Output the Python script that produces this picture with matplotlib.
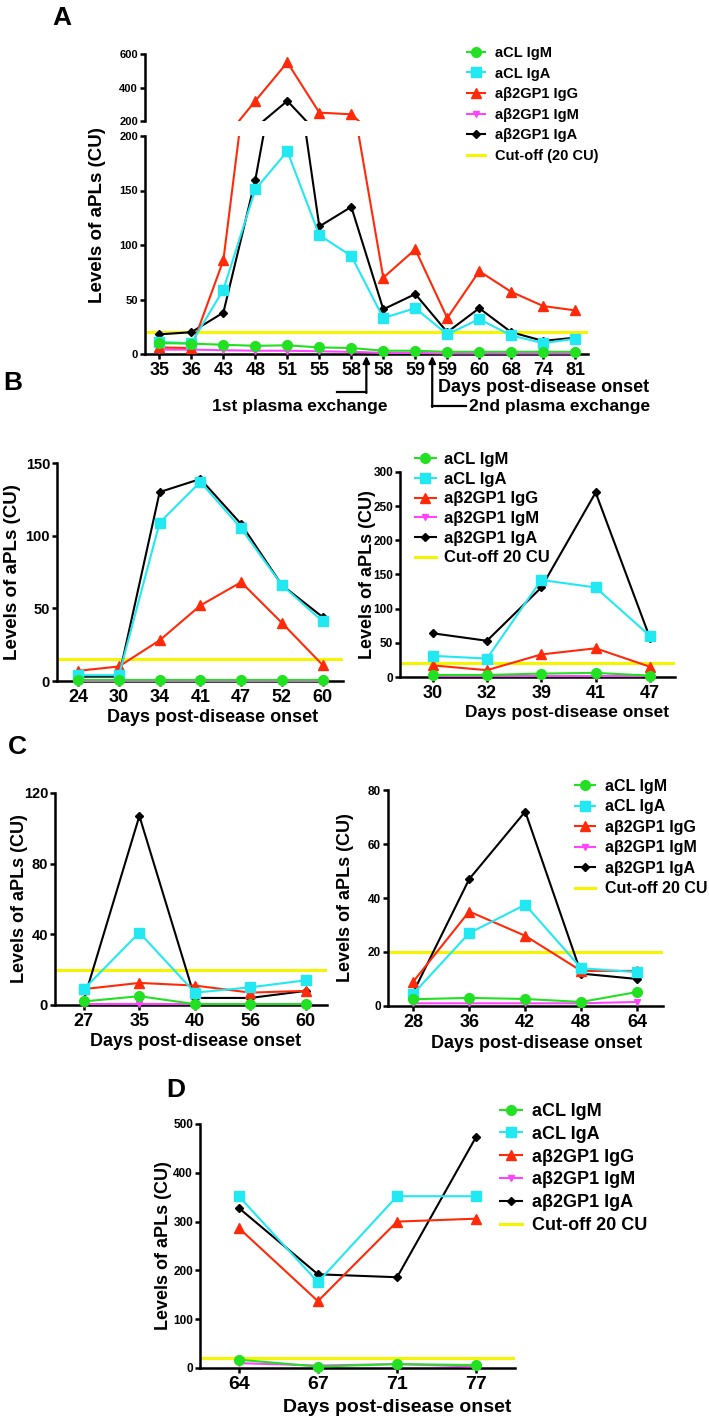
import matplotlib
matplotlib.use('Agg')
import matplotlib.pyplot as plt
import matplotlib.transforms as mtransforms
from matplotlib.transforms import Bbox, TransformedBbox
from matplotlib.lines import Line2D

plt.rcParams['font.family'] = ['Liberation Sans', 'DejaVu Sans']
plt.rcParams['font.weight'] = 'bold'
plt.rcParams['axes.labelweight'] = 'bold'

# ---------------- data ----------------
series_names = ['aCL IgM', 'aCL IgA', 'aβ2GP1 IgG', 'aβ2GP1 IgM', 'aβ2GP1 IgA']

# Panel A
A_days = ['35', '36', '43', '48', '51', '55', '58', '58', '59', '59', '60', '68', '74', '81']
A_acl_igm = [10, 9.5, 8.5, 7.5, 8, 6, 5.5, 3, 3, 2, 2, 2, 2, 2]
A_acl_iga = [11, 10, 59, 151, 186, 109, 90, 33, 42, 18, 32, 17, 10, 14]
A_b2_igg = [6, 5.5, 86, 320, 550, 250, 240, 70, 96, 33, 76, 57, 44, 40]
A_b2_igm = [4, 4, 3.5, 3, 3, 2.5, 2, 1, 1, 0.5, 0.5, 0.5, 0.5, 0.5]
A_b2_iga = [18, 20, 38, 160, 320, 117, 135, 41, 55, 20, 42, 20, 12, 15]
A_cutoff = 20

# Panel B left
B1_days = ['24', '30', '34', '41', '47', '52', '60']
B1_acl_igm = [0.5, 0.5, 0.5, 0.5, 0.5, 0.5, 0.5]
B1_acl_iga = [4, 4, 109, 137, 105, 66, 41]
B1_b2_igg = [7, 10, 28, 52, 68, 40, 11]
B1_b2_igm = [0.3, 0.3, 0.3, 0.3, 0.3, 0.3, 0.3]
B1_b2_iga = [3, 3, 130, 139, 108, 66, 44]
B1_cutoff = 15

# Panel B right
B2_days = ['30', '32', '39', '41', '47']
B2_acl_igm = [3, 3, 5, 6, 2]
B2_acl_iga = [31, 27, 142, 131, 60]
B2_b2_igg = [17, 10, 33, 42, 15]
B2_b2_igm = [1, 1, 1, 1, 1]
B2_b2_iga = [64, 53, 131, 270, 57]
B2_cutoff = 20

# Panel C left
C1_days = ['27', '35', '40', '56', '60']
C1_acl_igm = [2, 5, 0.5, 0.5, 0.5]
C1_acl_iga = [9, 41, 7, 10, 14]
C1_b2_igg = [9, 12.5, 11, 7, 8]
C1_b2_igm = [0.3, 0.3, 0.3, 0.3, 0.3]
C1_b2_iga = [3, 107, 4, 4, 8]
C1_cutoff = 20

# Panel C right
C2_days = ['28', '36', '42', '48', '64']
C2_acl_igm = [2.5, 3, 2.6, 1.5, 5.2]
C2_acl_iga = [4.5, 27, 37.5, 14, 12.5]
C2_b2_igg = [9, 35, 26, 13, 13]
C2_b2_igm = [1, 1, 1, 1, 1.5]
C2_b2_iga = [5, 47, 72, 12, 10]
C2_cutoff = 20

# Panel D
D_days = ['64', '67', '71', '77']
D_acl_igm = [17, 3, 8, 6]
D_acl_iga = [352, 176, 352, 352]
D_b2_igg = [287, 137, 300, 306]
D_b2_igm = [10, 5, 8, 3]
D_b2_iga = [328, 192, 186, 474]
D_cutoff = 20

# ---------------- style ----------------
GREEN = '#22e022'
CYAN = '#22e8f2'
RED = '#ff2a0a'
MAGENTA = '#ff44ff'
BLACK = '#000000'
YELLOW = '#f5f500'
styles = {
    'aCL IgM': dict(color=GREEN, marker='o', ms=7),
    'aCL IgA': dict(color=CYAN, marker='s', ms=7),
    'aβ2GP1 IgG': dict(color=RED, marker='^', ms=7.5),
    'aβ2GP1 IgM': dict(color=MAGENTA, marker='v', ms=4),
    'aβ2GP1 IgA': dict(color=BLACK, marker='D', ms=4.5),
}
draw_order = ['aβ2GP1 IgA', 'aβ2GP1 IgM', 'aβ2GP1 IgG', 'aCL IgA', 'aCL IgM']
LW = 1.5
SPW = 1.8

W, H = 709, 1421
fig = plt.figure(figsize=(W / 100, H / 100), dpi=100)
pix = mtransforms.Affine2D().scale(1 / W, -1 / H).translate(0, 1) + fig.transFigure


def add_ax(x0, y0, x1, y1):
    ax = fig.add_axes([x0 / W, 1 - y1 / H, (x1 - x0) / W, (y1 - y0) / H])
    ax.patch.set_visible(False)
    return ax


def style_ax(ax, ytick_fs, xtick_fs):
    for s in ['top', 'right']:
        ax.spines[s].set_visible(False)
    for s in ['left', 'bottom']:
        ax.spines[s].set_linewidth(SPW)
    ax.tick_params(axis='both', direction='out', width=SPW, length=3.5, pad=1.5)
    ax.tick_params(axis='y', labelsize=ytick_fs)
    ax.tick_params(axis='x', labelsize=xtick_fs, pad=2)


def plot_series(ax, data, cutoff, clipbox=None, ymin=None, ymax=None):
    x = list(range(len(data['aCL IgM'])))
    if cutoff is not None:
        ax.axhline(cutoff, color=YELLOW, lw=2.2, zorder=1)
    for i, name in enumerate(draw_order):
        st = styles[name]
        vals = data[name]
        keep = [j for j, v in enumerate(vals)
                if (ymin is None or v > ymin) and (ymax is None or v <= ymax)]
        kw = dict(marker=st['marker'], markevery=keep) if keep else dict(marker='None')
        ln, = ax.plot(x, vals, color=st['color'], ms=st['ms'], lw=LW, zorder=2 + i,
                      markeredgecolor=st['color'], **kw)
        if clipbox is None:
            ln.set_clip_on(False)
        else:
            ln.set_clip_box(clipbox)


def add_legend(ax, cut_label, x, ytop, fs, hl, htp, ls):
    handles = [Line2D([], [], color=styles[n]['color'], marker=styles[n]['marker'],
                      ms=styles[n]['ms'], lw=LW, markeredgecolor=styles[n]['color'])
               for n in series_names]
    handles.append(Line2D([], [], color=YELLOW, lw=2.2))
    labels = series_names + [cut_label]
    leg = ax.legend(handles, labels, loc='upper left', bbox_to_anchor=(x, ytop),
                    bbox_transform=pix, frameon=False, fontsize=fs,
                    handlelength=hl, handletextpad=htp, labelspacing=ls,
                    borderpad=0, borderaxespad=0, numpoints=1)
    leg.set_zorder(20)
    return leg


def labels(ax, xl, xpos, xfs, yl, ypos, yfs):
    ax.set_xlabel(xl, fontsize=xfs, va='center', ha='center')
    ax.xaxis.set_label_coords(xpos[0], xpos[1], transform=pix)
    ax.set_ylabel(yl, fontsize=yfs, va='center', ha='center')
    ax.yaxis.set_label_coords(ypos[0], ypos[1], transform=pix)


YLAB = 'Levels of aPLs (CU)'
XLAB = 'Days post-disease onset'

# ---------------- Panel A (broken axis) ----------------
axAu = add_ax(145, 54, 588, 121)
axA = add_ax(145, 136, 588, 354)
A_data = {'aCL IgM': A_acl_igm, 'aCL IgA': A_acl_iga, 'aβ2GP1 IgG': A_b2_igg,
          'aβ2GP1 IgM': A_b2_igm, 'aβ2GP1 IgA': A_b2_iga}
clipA = TransformedBbox(Bbox([[-0.05, -0.1], [1.05, 1.0]]), axA.transAxes)
clipAu = TransformedBbox(Bbox([[-0.05, 0.0], [1.05, 1.2]]), axAu.transAxes)
plot_series(axA, A_data, A_cutoff, clipA, ymax=200)
plot_series(axAu, A_data, None, clipAu, ymin=200)
axA.set_ylim(0, 200)
axA.set_yticks([0, 50, 100, 150, 200])
axA.set_xlim(-0.45, 13.4)
axA.set_xticks(range(len(A_days)))
axA.set_xticklabels(A_days)
style_ax(axA, 8, 13)
axAu.set_ylim(200, 600)
axAu.set_yticks([200, 400, 600])
axAu.set_xlim(-0.45, 13.4)
style_ax(axAu, 8, 13)
axAu.spines['bottom'].set_visible(False)
axAu.set_xticks([])
axA.set_xlabel(XLAB, fontsize=13, va='center', ha='center')
axA.xaxis.set_label_coords(544, 388, transform=pix)
fig.text(97, 215, YLAB, transform=pix, rotation=90, ha='center', va='center',
         fontsize=13.5, fontweight='bold')
add_legend(axA, 'Cut-off (20 CU)', 467, 46, 10.5, 1.25, 0.7, 0.45)

# plasma exchange arrows
tA = mtransforms.blended_transform_factory(axA.transData, pix)
axA.plot([5.55, 6.47], [392, 392], color='black', lw=1.6, transform=tA, clip_on=False)
axA.annotate('', xy=(6.47, 356), xycoords=tA, xytext=(6.47, 393), textcoords=tA,
             arrowprops=dict(arrowstyle='-|>', color='black', lw=1.6,
                             mutation_scale=10, shrinkA=0, shrinkB=0))
axA.plot([8.53, 9.6], [406, 406], color='black', lw=1.6, transform=tA, clip_on=False)
axA.annotate('', xy=(8.53, 356), xycoords=tA, xytext=(8.53, 407), textcoords=tA,
             arrowprops=dict(arrowstyle='-|>', color='black', lw=1.6,
                             mutation_scale=10, shrinkA=0, shrinkB=0))
fig.text(300, 407, '1st plasma exchange', transform=pix, ha='center', va='center',
         fontsize=12.5, fontweight='bold')
fig.text(560, 407, '2nd plasma exchange', transform=pix, ha='center', va='center',
         fontsize=12.5, fontweight='bold')

# ---------------- Panel B left ----------------
axB1 = add_ax(57, 463, 343, 681)
B1_data = {'aCL IgM': B1_acl_igm, 'aCL IgA': B1_acl_iga, 'aβ2GP1 IgG': B1_b2_igg,
           'aβ2GP1 IgM': B1_b2_igm, 'aβ2GP1 IgA': B1_b2_iga}
plot_series(axB1, B1_data, B1_cutoff)
axB1.set_ylim(0, 150)
axB1.set_yticks([0, 50, 100, 150])
axB1.set_xlim(-0.52, 6.5)
axB1.set_xticks(range(len(B1_days)))
axB1.set_xticklabels(B1_days)
style_ax(axB1, 10.5, 13)
labels(axB1, XLAB, (213, 717), 13, YLAB, (13, 572), 13.5)

# ---------------- Panel B right ----------------
axB2 = add_ax(400, 472, 675, 677)
B2_data = {'aCL IgM': B2_acl_igm, 'aCL IgA': B2_acl_iga, 'aβ2GP1 IgG': B2_b2_igg,
           'aβ2GP1 IgM': B2_b2_igm, 'aβ2GP1 IgA': B2_b2_iga}
plot_series(axB2, B2_data, B2_cutoff)
axB2.set_ylim(0, 300)
axB2.set_yticks([0, 50, 100, 150, 200, 250, 300])
axB2.set_xlim(-0.6, 4.46)
axB2.set_xticks(range(len(B2_days)))
axB2.set_xticklabels(B2_days)
style_ax(axB2, 8.5, 13)
labels(axB2, XLAB, (567, 712), 12.5, YLAB, (367, 575), 13)
add_legend(axB2, 'Cut-off 20 CU', 415, 452, 12, 1.25, 0.5, 0.28)

# ---------------- Panel C left ----------------
axC1 = add_ax(55, 793, 327, 1005)
C1_data = {'aCL IgM': C1_acl_igm, 'aCL IgA': C1_acl_iga, 'aβ2GP1 IgG': C1_b2_igg,
           'aβ2GP1 IgM': C1_b2_igm, 'aβ2GP1 IgA': C1_b2_iga}
plot_series(axC1, C1_data, C1_cutoff)
axC1.set_ylim(0, 120)
axC1.set_yticks([0, 40, 80, 120])
axC1.set_xlim(-0.52, 4.38)
axC1.set_xticks(range(len(C1_days)))
axC1.set_xticklabels(C1_days)
style_ax(axC1, 10.5, 13)
labels(axC1, XLAB, (196, 1042), 13, YLAB, (20, 899), 13)

# ---------------- Panel C right ----------------
axC2 = add_ax(388, 790, 663, 1006)
C2_data = {'aCL IgM': C2_acl_igm, 'aCL IgA': C2_acl_iga, 'aβ2GP1 IgG': C2_b2_igg,
           'aβ2GP1 IgM': C2_b2_igm, 'aβ2GP1 IgA': C2_b2_iga}
plot_series(axC2, C2_data, C2_cutoff)
axC2.set_ylim(0, 80)
axC2.set_yticks([0, 20, 40, 60, 80])
axC2.set_xlim(-0.45, 4.46)
axC2.set_xticks(range(len(C2_days)))
axC2.set_xticklabels(C2_days)
style_ax(axC2, 8.5, 13)
labels(axC2, XLAB, (537, 1043), 13, YLAB, (345, 898), 13)
add_legend(axC2, 'Cut-off 20 CU', 575, 779, 11.5, 1.25, 0.6, 0.34)

# ---------------- Panel D ----------------
axD = add_ax(200, 1124, 515, 1368)
D_data = {'aCL IgM': D_acl_igm, 'aCL IgA': D_acl_iga, 'aβ2GP1 IgG': D_b2_igg,
          'aβ2GP1 IgM': D_b2_igm, 'aβ2GP1 IgA': D_b2_iga}
plot_series(axD, D_data, D_cutoff)
axD.set_ylim(0, 500)
axD.set_yticks([0, 100, 200, 300, 400, 500])
axD.set_xlim(-0.49, 3.49)
axD.set_xticks(range(len(D_days)))
axD.set_xticklabels(D_days)
style_ax(axD, 8.5, 14)
labels(axD, XLAB, (397, 1408), 14, YLAB, (163, 1246), 13)
add_legend(axD, 'Cut-off 20 CU', 500, 1103, 13, 1.2, 0.6, 0.32)

# panel letters
for letter, (lx, ly) in {'A': (62, 18), 'B': (13, 383), 'C': (17, 747), 'D': (176, 1090)}.items():
    fig.text(lx, ly, letter, transform=pix, ha='center', va='center',
             fontsize=19, fontweight='bold')

fig.savefig('out.png', dpi=100)
